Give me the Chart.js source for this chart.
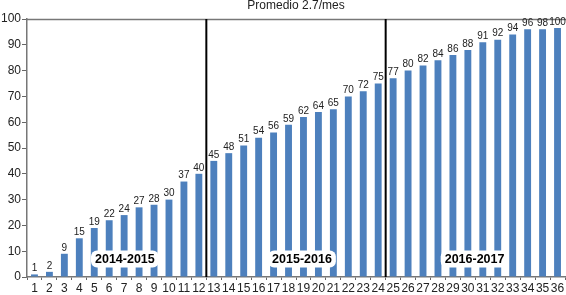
<!DOCTYPE html>
<html>
<head>
<meta charset="utf-8">
<script src="https://cdn.jsdelivr.net/npm/chart.js@4/dist/chart.umd.min.js"></script>
<style>
html,body{margin:0;padding:0;background:#fff;}
#wrap{width:566px;height:295px;position:relative;}
</style>
</head>
<body>
<div id="wrap"><canvas id="c" width="566" height="295"></canvas></div>
<script>
const categories = ['1','2','3','4','5','6','7','8','9','10','11','12','13','14','15','16','17','18','19','20','21','22','23','24','25','26','27','28','29','30','31','32','33','34','35','36'];
const barHeights = [1,2,9,15,19,22,24,27,28,30,37,40,45,48,51,54,56,59,62,64,65,70,72,75,77,80,82,84,86,88,91,92,94,96,96,96.5];
const valueLabels = [1,2,9,15,19,22,24,27,28,30,37,40,45,48,51,54,56,59,62,64,65,70,72,75,77,80,82,84,86,88,91,92,94,96,98,100];
const periodNames = ['2014-2015','2015-2016','2016-2017'];
const periodCenters = [6.05, 17.9, 29.45];
const dividers = [11.5, 23.5];
const titleText = 'Promedio 2.7/mes';
const yTicks = [0,10,20,30,40,50,60,70,80,90,100];

const FONT = '"Liberation Sans", Arial, Helvetica, sans-serif';

const overlay = {
  id: 'overlay',
  afterDatasetsDraw(chart) {
    const ctx = chart.ctx;
    const ca = chart.chartArea;
    const xs = chart.scales.x;
    const meta = chart.getDatasetMeta(0);
    const step = xs.getPixelForValue(1) - xs.getPixelForValue(0);
    ctx.save();
    // top border
    ctx.strokeStyle = '#777';
    ctx.lineWidth = 1.5;
    ctx.beginPath();
    ctx.moveTo(ca.left, ca.top + 0.5);
    ctx.lineTo(chart.width, ca.top + 0.5);
    ctx.stroke();
    // value labels
    ctx.fillStyle = '#222';
    ctx.font = '10px ' + FONT;
    ctx.textAlign = 'center';
    ctx.textBaseline = 'bottom';
    meta.data.forEach((bar, i) => {
      ctx.fillText(String(valueLabels[i]), bar.x, bar.y - 1);
    });
    // dividers
    ctx.strokeStyle = '#000';
    ctx.lineWidth = 2;
    dividers.forEach(d => {
      const x = xs.getPixelForValue(0) + d * step;
      ctx.beginPath();
      ctx.moveTo(x, ca.top);
      ctx.lineTo(x, ca.bottom);
      ctx.stroke();
    });
    // period labels
    ctx.font = 'bold 12.5px ' + FONT;
    ctx.textBaseline = 'middle';
    periodNames.forEach((p, i) => {
      const x = xs.getPixelForValue(0) + periodCenters[i] * step;
      const y = ca.bottom - 18;
      const w = ctx.measureText(p).width + 8;
      const h = 17;
      ctx.fillStyle = '#fff';
      ctx.beginPath();
      if (ctx.roundRect) ctx.roundRect(x - w/2, y - h/2, w, h, 6); else ctx.rect(x - w/2, y - h/2, w, h);
      ctx.fill();
      ctx.fillStyle = '#000';
      ctx.fillText(p, x, y + 0.5);
    });
    // title
    ctx.fillStyle = '#222';
    ctx.font = '12px ' + FONT;
    ctx.textBaseline = 'middle';
    ctx.fillText(titleText, (ca.left + ca.right) / 2, 6);
    ctx.restore();
  }
};

new Chart(document.getElementById('c'), {
  type: 'bar',
  data: {
    labels: categories,
    datasets: [{
      data: barHeights,
      backgroundColor: '#4d80bd',
      borderWidth: 0,
      barPercentage: 0.46,
      categoryPercentage: 1.0
    }]
  },
  options: {
    responsive: false,
    animation: false,
    devicePixelRatio: 1,
    layout: { padding: { top: 19, right: 1, left: 0, bottom: 0 } },
    plugins: { legend: { display: false }, tooltip: { enabled: false }, title: { display: false } },
    scales: {
      x: {
        offset: true,
        grid: { offset: true, drawOnChartArea: false, drawTicks: true, tickLength: 3, color: '#666', lineWidth: 1 },
        border: { color: '#777', width: 1.5 },
        ticks: { color: '#222', font: { size: 12, family: FONT }, padding: 1, maxRotation: 0, autoSkip: false },
        afterFit(s) { s.height = 18; }
      },
      y: {
        min: 0, max: 100,
        afterBuildTicks(s) { s.ticks = yTicks.map(v => ({ value: v })); },
        grid: { drawOnChartArea: false, drawTicks: true, tickLength: 5, color: '#666' },
        border: { color: '#777', width: 1.5 },
        ticks: { color: '#222', font: { size: 12, family: FONT }, padding: 1 },
        afterFit(s) { s.width = 27; }
      }
    }
  },
  plugins: [overlay]
});
</script>
</body>
</html>
